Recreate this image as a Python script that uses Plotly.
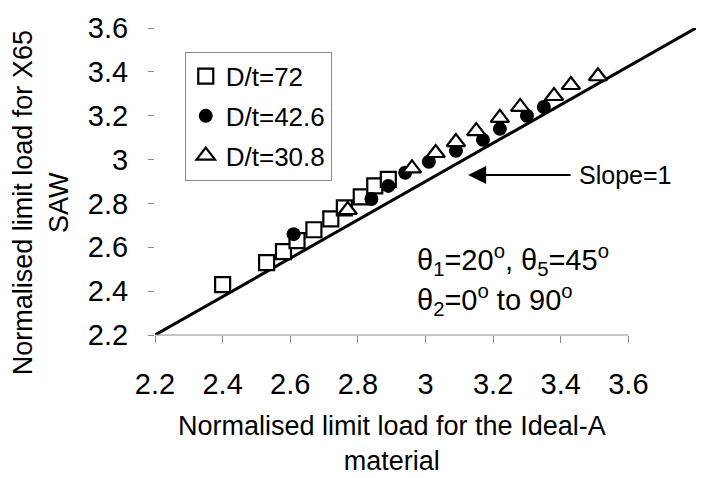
import plotly.graph_objects as go

# Normalised limit loads: Ideal-A material (x) vs X65 SAW (y)
dt72_x = [2.40, 2.53, 2.58, 2.62, 2.67, 2.72, 2.76, 2.81, 2.85, 2.89]
dt72_y = [2.43, 2.53, 2.58, 2.63, 2.68, 2.73, 2.78, 2.83, 2.88, 2.91]

dt426_x = [2.61, 2.84, 2.89, 2.94, 3.01, 3.09, 3.17, 3.22, 3.30, 3.35]
dt426_y = [2.66, 2.82, 2.88, 2.94, 2.99, 3.04, 3.09, 3.14, 3.20, 3.24]

dt308_x = [2.77, 2.96, 3.03, 3.09, 3.15, 3.22, 3.28, 3.38, 3.43, 3.51]
dt308_y = [2.77, 2.96, 3.03, 3.08, 3.13, 3.19, 3.24, 3.29, 3.34, 3.38]

# Reference line
ref_x = [2.2, 3.8]
ref_y = [2.2, 3.6]

tick_vals = [2.2, 2.4, 2.6, 2.8, 3.0, 3.2, 3.4, 3.6]
tick_text = ["2.2", "2.4", "2.6", "2.8", "3", "3.2", "3.4", "3.6"]

FONT = "Liberation Sans, Arial, sans-serif"
GREY = "#8a8a8a"

fig = go.Figure()

fig.add_trace(go.Scatter(
    x=ref_x, y=ref_y, mode="lines",
    line=dict(color="black", width=3),
    showlegend=False, hoverinfo="skip",
))

fig.add_trace(go.Scatter(
    x=dt72_x, y=dt72_y, mode="markers", name="D/t=72",
    marker=dict(symbol="square", size=15, color="white",
                line=dict(color="black", width=2.2)),
    cliponaxis=False, legendgroup="a",
))
fig.add_trace(go.Scatter(
    x=dt426_x, y=dt426_y, mode="markers", name="D/t=42.6",
    marker=dict(symbol="circle", size=14, color="black",
                line=dict(color="black", width=0)),
    cliponaxis=False, legendgroup="b",
))
fig.add_trace(go.Scatter(
    x=dt308_x, y=dt308_y, mode="markers", name="D/t=30.8",
    marker=dict(symbol="triangle-up", size=16, color="white",
                line=dict(color="black", width=2.2)),
    cliponaxis=False, legendgroup="c",
))

# Visible x axis line stops at 3.6
fig.add_shape(type="line", xref="x", yref="paper",
              x0=2.2, x1=3.6, y0=0, y1=0,
              line=dict(color=GREY, width=1))

annotations = [
    # axis titles
    dict(xref="paper", yref="paper", x=-0.211, y=0.432,
         text="Normalised limit load for X65<br>SAW", textangle=-90,
         showarrow=False, xanchor="center", yanchor="middle",
         font=dict(size=27, family=FONT, color="black")),
    dict(xref="paper", yref="paper", x=0.438, y=-0.352,
         text="Normalised limit load for the Ideal-A<br>material",
         showarrow=False, xanchor="center", yanchor="middle",
         font=dict(size=27, family=FONT, color="black")),
    # arrow pointing at the reference line
    dict(x=3.126, y=2.93, xref="x", yref="y", ax=104, ay=0,
         text="", showarrow=True, arrowhead=2, arrowsize=1.8,
         arrowwidth=2, arrowcolor="black"),
    dict(x=3.449, y=2.93, xref="x", yref="y", text="Slope=1",
         showarrow=False, xanchor="left", yanchor="middle",
         font=dict(size=25, family=FONT, color="black")),
    dict(x=2.969, y=2.54, xref="x", yref="y",
         text="θ<sub>1</sub>=20<sup>o</sup>, θ<sub>5</sub>=45<sup>o</sup>",
         showarrow=False, xanchor="left", yanchor="middle",
         font=dict(size=29, family=FONT, color="black")),
    dict(x=2.969, y=2.358, xref="x", yref="y",
         text="θ<sub>2</sub>=0<sup>o</sup> to 90<sup>o</sup>",
         showarrow=False, xanchor="left", yanchor="middle",
         font=dict(size=29, family=FONT, color="black")),
]

fig.update_layout(
    width=722, height=478,
    margin=dict(l=155, r=26, t=25, b=143),
    paper_bgcolor="white", plot_bgcolor="white",
    font=dict(family=FONT, size=26, color="black"),
    showlegend=True,
    legend=dict(
        x=0.055, y=0.923, xanchor="left", yanchor="top",
        bgcolor="white", bordercolor=GREY, borderwidth=1,
        font=dict(size=26, family=FONT, color="black"),
        tracegroupgap=3, itemsizing="trace",
    ),
    xaxis=dict(
        range=[2.2, 3.8], tickvals=tick_vals, ticktext=tick_text,
        showgrid=False, zeroline=False, showline=False,
        ticks="outside", ticklen=7, tickcolor=GREY, tickwidth=1,
        tickfont=dict(size=29, family=FONT, color="black"),
        ticklabelstandoff=16,
    ),
    yaxis=dict(
        range=[2.2, 3.6], tickvals=tick_vals, ticktext=tick_text,
        showgrid=False, zeroline=False, showline=False,
        ticks="outside", ticklen=6, tickcolor=GREY, tickwidth=1,
        tickfont=dict(size=29, family=FONT, color="black"),
        ticklabelstandoff=14,
    ),
    annotations=annotations,
)

fig.write_html("out.html")
